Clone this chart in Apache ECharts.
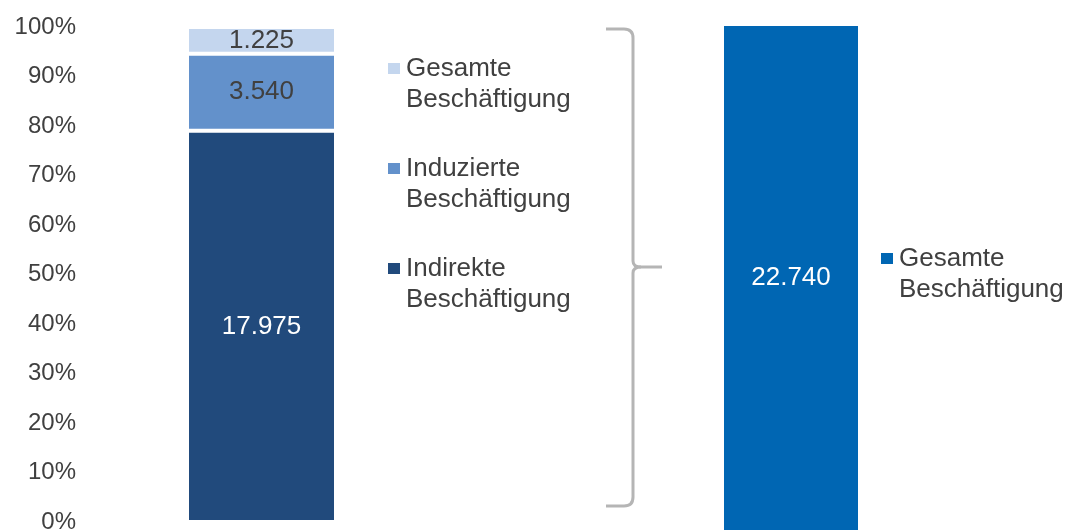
<!DOCTYPE html>
<html>
<head>
<meta charset="utf-8">
<title>Beschäftigung</title>
<script src="https://cdn.jsdelivr.net/npm/echarts@6/dist/echarts.min.js"></script>
<style>
  html, body { margin: 0; padding: 0; background: #fff; }
  #main { width: 1067px; height: 530px; }
</style>
</head>
<body>
<div id="main"></div>
<script>
// Werte aus der Grafik
var segmentNames = ['Indirekte Beschäftigung', 'Induzierte Beschäftigung', 'Gesamte Beschäftigung'];
var segmentValues = [17975, 3540, 1225];
var segmentColors = ['#214A7C', '#6391CB', '#C4D6EE'];
var segmentLabelColors = ['#ffffff', '#404040', '#404040'];
var totalName = 'Gesamte Beschäftigung';
var totalValue = 22740;
var totalColor = '#0066B3';
var yTicks = [0, 10, 20, 30, 40, 50, 60, 70, 80, 90, 100];

(function () {
    var fontFamily = '"Liberation Sans", Arial, sans-serif';
    var textColor = '#404040';

    function fmt(v) {
        return String(v).replace(/\B(?=(\d{3})+(?!\d))/g, '.');
    }
    // erste Zeile mittig zum Symbol: leere Zeile davor
    function legendFmt(n) {
        return ' \n' + n.replace(' ', '\n');
    }
    var sum = segmentValues.reduce(function (a, b) { return a + b; }, 0);

    var series = segmentNames.map(function (name, i) {
        return {
            name: name,
            type: 'bar',
            stack: 'anteil',
            xAxisIndex: 0,
            yAxisIndex: 0,
            barWidth: 149,
            data: [segmentValues[i] / sum * 100],
            itemStyle: { color: segmentColors[i], borderColor: '#ffffff', borderWidth: 2 },
            label: {
                show: true,
                position: 'inside',
                color: segmentLabelColors[i],
                fontSize: 26,
                fontFamily: fontFamily,
                formatter: function () { return fmt(segmentValues[i]); }
            },
            silent: true
        };
    });
    series.push({
        name: totalName,
        type: 'bar',
        xAxisIndex: 1,
        yAxisIndex: 1,
        barWidth: 134,
        data: [totalValue],
        itemStyle: { color: totalColor },
        label: {
            show: true,
            position: 'inside',
            color: '#ffffff',
            fontSize: 26,
            fontFamily: fontFamily,
            formatter: function (p) { return fmt(p.value); }
        },
        silent: true
    });

    var legendText = {
        color: textColor,
        fontSize: 26,
        fontFamily: fontFamily,
        lineHeight: 31
    };

    var option = {
        animation: false,
        grid: [
            { left: 86, top: 27, width: 351, bottom: 8, outerBoundsMode: 'none' },
            { left: 700, top: 26, width: 182, bottom: 0, outerBoundsMode: 'none' }
        ],
        xAxis: [
            { type: 'category', gridIndex: 0, data: [''], show: false },
            { type: 'category', gridIndex: 1, data: [''], show: false }
        ],
        yAxis: [
            {
                type: 'value', gridIndex: 0, min: yTicks[0], max: yTicks[yTicks.length - 1], interval: 10,
                axisLine: { show: false }, axisTick: { show: false }, splitLine: { show: false },
                axisLabel: { formatter: '{value}%', color: textColor, fontSize: 24, fontFamily: fontFamily, margin: 10 }
            },
            { type: 'value', gridIndex: 1, min: 0, max: totalValue, show: false }
        ],
        legend: [
            {
                orient: 'vertical',
                left: 386,
                top: 22,
                padding: 0,
                itemGap: 7,
                itemWidth: 14,
                itemHeight: 13,
                icon: 'rect',
                selectedMode: false,
                data: [
                    { name: segmentNames[2], itemStyle: { color: segmentColors[2] } },
                    { name: segmentNames[1], itemStyle: { color: segmentColors[1] } },
                    { name: segmentNames[0], itemStyle: { color: segmentColors[0] } }
                ],
                formatter: legendFmt,
                textStyle: legendText
            },
            {
                orient: 'vertical',
                left: 879,
                top: 212,
                padding: 0,
                itemWidth: 14,
                itemHeight: 13,
                icon: 'rect',
                selectedMode: false,
                data: [{ name: totalName, itemStyle: { color: totalColor } }],
                formatter: legendFmt,
                textStyle: legendText
            }
        ],
        series: series
    };

    var chart = echarts.init(document.getElementById('main'));
    chart.setOption(option);

    // geschweifte Klammer als Anmerkung
    var bx = 633, top = 29, bottom = 506, mid = 267;
    var braceStyle = { stroke: '#B5B5B5', lineWidth: 3, fill: null };
    chart.setOption({
        graphic: [
            { type: 'line', silent: true, shape: { x1: 606, y1: top, x2: bx - 9, y2: top }, style: braceStyle },
            { type: 'bezierCurve', silent: true, shape: { x1: bx - 9, y1: top, cpx1: bx, cpy1: top, x2: bx, y2: top + 9 }, style: braceStyle },
            { type: 'line', silent: true, shape: { x1: bx, y1: top + 9, x2: bx, y2: mid - 6 }, style: braceStyle },
            { type: 'bezierCurve', silent: true, shape: { x1: bx, y1: mid - 6, cpx1: bx, cpy1: mid, x2: bx + 8, y2: mid }, style: braceStyle },
            { type: 'line', silent: true, shape: { x1: bx + 8, y1: mid, x2: 662, y2: mid }, style: braceStyle },
            { type: 'bezierCurve', silent: true, shape: { x1: bx + 8, y1: mid, cpx1: bx, cpy1: mid, x2: bx, y2: mid + 6 }, style: braceStyle },
            { type: 'line', silent: true, shape: { x1: bx, y1: mid + 6, x2: bx, y2: bottom - 9 }, style: braceStyle },
            { type: 'bezierCurve', silent: true, shape: { x1: bx, y1: bottom - 9, cpx1: bx, cpy1: bottom, x2: bx - 9, y2: bottom }, style: braceStyle },
            { type: 'line', silent: true, shape: { x1: bx - 9, y1: bottom, x2: 606, y2: bottom }, style: braceStyle }
        ]
    });
})();
</script>
</body>
</html>
